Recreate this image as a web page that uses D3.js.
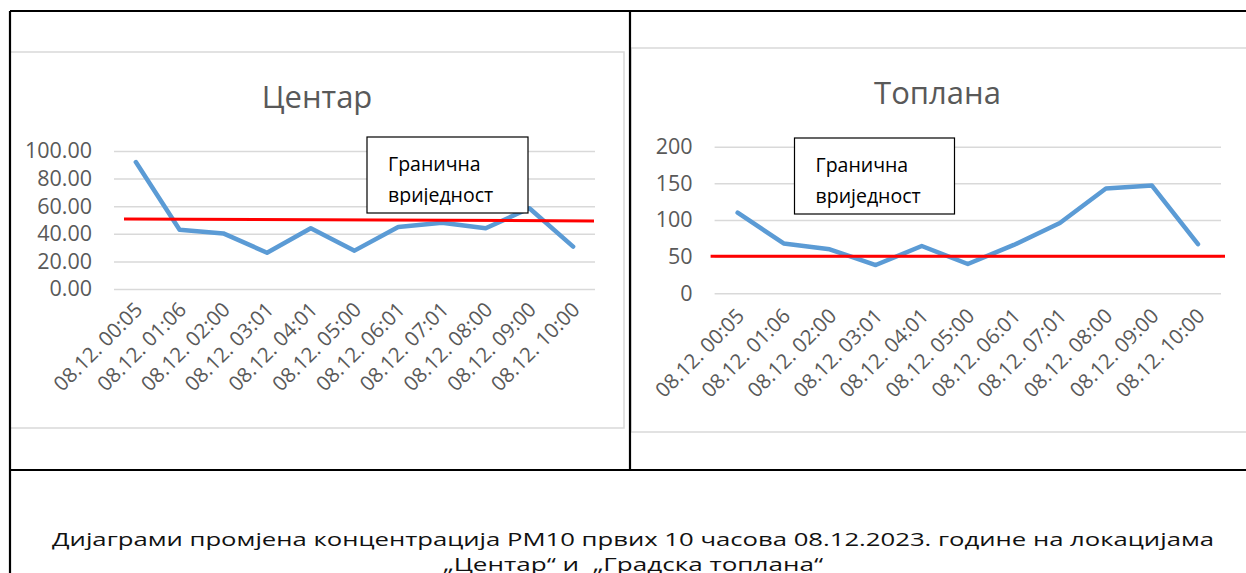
<!DOCTYPE html>
<html><head><meta charset="utf-8">
<script src="https://cdn.jsdelivr.net/npm/d3@7"></script>
<style>html,body{margin:0;padding:0;background:#fff;overflow:hidden}</style>
</head><body><svg id="c" width="1246" height="573"></svg>
<script>
const categories = ["08.12. 00:05","08.12. 01:06","08.12. 02:00","08.12. 03:01","08.12. 04:01","08.12. 05:00","08.12. 06:01","08.12. 07:01","08.12. 08:00","08.12. 09:00","08.12. 10:00"];
const centarValues = [92, 43, 40.3, 26.3, 44, 27.8, 45, 48, 44, 58.5, 30.7];
const toplanaValues = [110, 68, 60, 38.6, 64.5, 40, 66, 96, 143, 147, 67];
const centarTicks = [0, 20, 40, 60, 80, 100];
const toplanaTicks = [0, 50, 100, 150, 200];
const centarLimit = [50.7, 49.3];
const toplanaLimit = [50.5, 50.5];
const limitLabel = ["Гранична", "вриједност"];
const titles = ["Центар", "Топлана"];
const captionLines = ["Дијаграми промјена концентрација PM10 првих 10 часова 08.12.2023. године на локацијама", "„Центар“ и\u00A0 „Градска топлана“"];

const FONT = "'Open Sans', 'Noto Sans', sans-serif";
const svg = d3.select("#c").style("font-family", FONT);

function drawChart(cfg, id) {
  const g = svg.append("g");
  g.append("rect").attr("x", cfg.box[0]).attr("y", cfg.box[1])
    .attr("width", cfg.box[2] - cfg.box[0]).attr("height", cfg.box[3] - cfg.box[1])
    .attr("fill", "#fff").attr("stroke", "#d9d9d9").attr("stroke-width", 1.5);

  const x = d3.scaleBand().domain(categories).range([cfg.plot[0], cfg.plot[1]]);
  const y = d3.scaleLinear().domain([cfg.ticks[0], cfg.ticks[cfg.ticks.length - 1]]).range([cfg.plot[2], cfg.plot[3]]);

  // y axis + gridlines
  const ya = g.append("g").attr("transform", `translate(${cfg.plot[0]},0)`)
    .call(d3.axisLeft(y).tickValues(cfg.ticks).tickFormat(cfg.fmt)
      .tickSize(-(cfg.plot[1] - cfg.plot[0])).tickPadding(22));
  ya.select(".domain").remove();
  ya.selectAll(".tick line").attr("stroke", "#d9d9d9").attr("stroke-width", 1.5);
  ya.selectAll(".tick text").attr("fill", "#595959").style("font-size", "21.5px").style("font-family", FONT);

  // x axis labels
  const xa = g.append("g").attr("transform", `translate(0,${cfg.plot[2]})`)
    .call(d3.axisBottom(x).tickSize(0));
  xa.select(".domain").remove();
  xa.selectAll(".tick text")
    .attr("x", 0).attr("y", 0).attr("dy", 0)
    .attr("transform", `translate(${cfg.lab[0]},${cfg.lab[1]}) rotate(-45)`)
    .attr("text-anchor", "end")
    .attr("fill", "#595959").style("font-size", "20.5px").style("font-family", FONT);

  // title
  g.append("text").attr("x", (cfg.box[0] + Math.min(cfg.box[2], cfg.titleRight)) / 2).attr("y", cfg.titleY)
    .attr("text-anchor", "middle").attr("fill", "#595959")
    .style("font-size", "31px").text(cfg.title);

  // series line
  const line = d3.line().x((d, i) => x(categories[i]) + x.bandwidth() / 2).y(d => y(d));
  g.append("path").datum(cfg.values).attr("d", line)
    .attr("fill", "none").attr("stroke", "#5b9bd5").attr("stroke-width", 4.5)
    .attr("stroke-linejoin", "round").attr("stroke-linecap", "round");

  // limit line
  const lx = [cfg.plot[0] + cfg.limitX[0], cfg.plot[1] + cfg.limitX[1]];
  g.append("path").datum(cfg.limit)
    .attr("d", d3.line().x((d, i) => lx[i]).y(d => y(d)))
    .attr("stroke", "#ff0000").attr("stroke-width", 3).attr("fill", "none");

  // text box
  const tb = cfg.tbox;
  g.append("rect").attr("x", tb[0]).attr("y", tb[1]).attr("width", tb[2] - tb[0]).attr("height", tb[3] - tb[1])
    .attr("fill", "#fff").attr("stroke", "#000").attr("stroke-width", 1.2);
  const clipId = "clip" + id;
  svg.append("clipPath").attr("id", clipId).append("rect")
    .attr("x", tb[0]).attr("y", tb[1]).attr("width", tb[2] - tb[0]).attr("height", cfg.clipH);
  const tg = g.append("g").attr("clip-path", `url(#${clipId})`);
  limitLabel.forEach((t, i) => {
    tg.append("text").attr("x", tb[0] + 21).attr("y", tb[1] + 34 + i * 31)
      .attr("fill", "#000").style("font-size", "19.5px").text(t);
  });
}

drawChart({
  box: [10, 52, 624, 428], plot: [114, 595, 289, 151], ticks: centarTicks, fmt: d3.format(".2f"),
  values: centarValues, limit: centarLimit, limitX: [10, -1], lab: [8, 22],
  title: titles[0], titleY: 108, titleRight: 9999, tbox: [367, 137, 528, 213], clipH: 68
}, 0);

drawChart({
  box: [631, 48, 1252, 432], plot: [714.6, 1221, 293.3, 146.7], ticks: toplanaTicks, fmt: d3.format("d"),
  values: toplanaValues, limit: toplanaLimit, limitX: [-4, 4], lab: [8, 24],
  title: titles[1], titleY: 104, titleRight: 1244, tbox: [794.5, 138, 954.5, 214], clipH: 100
}, 1);

// outer table frame
const frame = svg.append("g").attr("stroke", "#000").attr("stroke-width", 2.2).attr("fill", "none");
frame.append("path").attr("d", "M10,11H1246");
frame.append("path").attr("d", "M10,11V573");
frame.append("path").attr("d", "M630,11V470");
frame.append("path").attr("d", "M10,470H1246");

// caption
const capW = [1162, 380];
const capY = [546, 571];
captionLines.forEach((t, i) => {
  svg.append("text").attr("x", 633).attr("y", capY[i]).attr("text-anchor", "middle")
    .attr("fill", "#111").style("font-size", "19px").style("white-space", "pre")
    .attr("textLength", capW[i]).attr("lengthAdjust", "spacingAndGlyphs").text(t);
});
</script>
</body></html>
